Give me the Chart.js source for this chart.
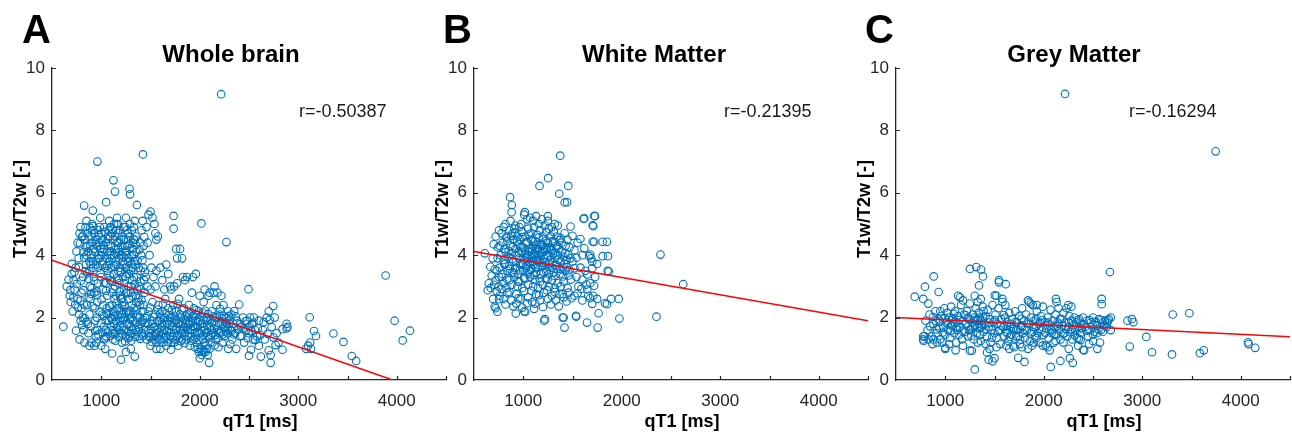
<!DOCTYPE html>
<html>
<head>
<meta charset="utf-8">
<script src="https://cdn.jsdelivr.net/npm/chart.js@4.4.1/dist/chart.umd.min.js"></script>
<style>
html,body{margin:0;padding:0;background:#fff;}
#wrap{position:relative;width:1292px;height:437px;overflow:hidden;background:#fff;}
canvas{position:absolute;top:0;}
</style>
</head>
<body>
<div id="wrap">
<canvas id="cA" width="450" height="437" style="left:0px"></canvas>
<canvas id="cB" width="450" height="437" style="left:422px"></canvas>
<canvas id="cC" width="448" height="437" style="left:844px"></canvas>
</div>
<script>
// ---------------- DATA ----------------
const panelLetters = ["A", "B", "C"];
const panelTitles = ["Whole brain", "White Matter", "Grey Matter"];
const rLabels = ["r=-0.50387", "r=-0.21395", "r=-0.16294"];
const xAxisTitle = "qT1 [ms]";
const yAxisTitle = "T1w/T2w [-]";
const xTickValues = [1000, 2000, 3000, 4000];
const yTickValues = [0, 2, 4, 6, 8, 10];

// fitted regression lines (endpoints)
const wholeFitQT1 = [500, 3957];
const wholeFitRatio = [3.84, 0];
const whiteFitQT1 = [500, 4500];
const whiteFitRatio = [4.12, 1.90];
const greyFitQT1 = [500, 4500];
const greyFitRatio = [2.0, 1.39];

// [qT1, T1w/T2w]
const wholeBrainPoints = [
[650,3.0],[680,2.7],[700,3.4],[690,2.5],[720,3.2],[730,2.9],[710,2.2],[740,3.6],[760,2.6],[770,3.9],[760,4.4],[780,4.7],[790,4.9],[775,2.1],[790,1.9],[800,2.3],[810,2.0],[820,1.6],[800,2.8],[815,3.3],[820,4.1],[830,4.5],[840,4.9],[850,5.1],[845,3.7],[860,4.3],[855,2.4],[865,1.8],[870,1.5],[880,2.1],[890,2.6],[885,3.0],[880,3.5],[895,4.0],[900,4.6],[905,5.0],[910,4.8],[920,4.2],[915,3.8],[925,3.3],[930,2.8],[935,2.3],[940,1.9],[945,1.4],[930,1.1],[950,1.2],[960,1.6],[955,2.0],[960,2.5],[965,3.1],[970,3.6],[975,4.0],[980,4.4],[985,4.9],[990,5.2],[1000,4.7],[1005,4.1],[1010,3.7],[1000,3.3],[1015,2.9],[1020,2.4],[1010,2.1],[1025,1.7],[1030,1.3],[1040,1.0],[1050,1.4],[1045,1.9],[1055,2.3],[1060,2.7],[1050,3.1],[1065,3.5],[1060,3.9],[1070,4.3],[1075,4.8],[1080,5.1],[1090,4.6],[1095,4.0],[1100,3.6],[1090,3.2],[1105,2.8],[1110,2.4],[1100,2.0],[1115,1.6],[1120,1.3],[1130,1.8],[1125,2.2],[1135,2.6],[1140,3.0],[1130,3.4],[1145,3.8],[1150,4.2],[1140,4.6],[1155,5.0],[1160,5.2],[1170,4.7],[1175,4.4],[1180,3.9],[1170,3.5],[1185,3.1],[1190,2.7],[1180,2.3],[1195,1.9],[1200,1.5],[1210,1.2],[1220,1.7],[1215,2.1],[1225,2.5],[1230,2.9],[1220,3.3],[1235,3.7],[1240,4.1],[1230,4.5],[1245,4.9],[1250,5.2],[1260,4.8],[1265,4.3],[1270,3.8],[1260,3.4],[1275,3.0],[1280,2.6],[1270,2.2],[1285,1.8],[1290,1.4],[1300,1.7],[1305,2.0],[1310,2.4],[1300,2.8],[1315,3.2],[1320,3.6],[1310,4.0],[1325,4.4],[1330,4.9],[1340,5.1],[1350,4.6],[1355,4.1],[1345,3.7],[1360,3.3],[1365,2.9],[1355,2.5],[1370,2.1],[1375,1.7],[1380,1.4],[1390,2.0],[1395,2.4],[1385,3.0],[1400,3.5],[1405,4.0],[1395,4.4],[1410,4.8],[1420,5.1],[1430,4.3],[1425,3.6],[1435,3.2],[1440,2.8],[1430,2.4],[1445,2.0],[1450,1.6],
[880,3.8],[900,3.9],[920,3.6],[940,4.1],[950,3.7],[960,4.3],[980,3.9],[1000,4.0],[1020,3.8],[1030,4.2],[1040,3.6],[1060,4.1],[1080,3.8],[1100,4.3],[1110,3.9],[1120,4.5],[1130,4.0],[1150,3.7],[1160,4.4],[1180,4.1],[1190,3.6],[1200,4.5],[1210,4.0],[1220,3.8],[1240,4.3],[1250,3.6],[1260,4.0],[1280,3.9],[1290,4.6],[1300,3.5],[1320,4.2],[1330,3.8],[1340,4.5],[850,4.0],[870,4.6],[890,4.3],[910,4.4],[930,4.7],[950,4.5],[970,4.8],[990,4.2],[1010,4.5],[1030,4.9],[1050,4.4],[1070,4.6],[1090,4.9],[1110,4.7],[1130,5.0],[1150,4.8],[1170,5.0],[1190,4.8],[1210,4.6],[1230,4.9],[1250,4.5],[1270,4.7],[1290,5.0],[1310,4.8],[1330,4.5],
[1050,1.6],[1080,1.9],[1100,1.7],[1120,2.1],[1140,1.5],[1150,1.9],[1160,2.3],[1180,1.6],[1200,2.0],[1210,2.4],[1230,1.6],[1240,2.0],[1250,1.4],[1260,1.8],[1280,2.1],[1300,1.5],[1320,1.9],[1330,2.3],[1350,1.6],[1360,2.0],[1380,2.5],[1400,1.8],[1410,1.5],[1420,2.2],[1150,2.7],[1200,2.6],[1250,2.8],[1300,3.0],[1350,2.7],[1400,2.9],[1180,3.2],[1230,3.1],[1280,3.4],[1330,3.3],[1380,3.6],
[812,4.62],[838,3.48],[867,4.12],[893,3.71],[902,2.94],[918,4.93],[927,3.18],[944,4.36],[958,2.72],[963,3.88],[977,4.64],[993,3.42],[1003,2.58],[1018,4.32],[1027,3.12],[1036,4.74],[1048,2.86],[1058,3.66],[1067,4.52],[1073,2.14],[1086,3.34],[1093,4.12],[1107,3.16],[1114,4.84],[1123,2.92],[1136,3.64],[1147,4.06],[1156,2.46],[1164,3.26],[1173,4.22],[1187,2.84],[1196,3.46],[1204,4.28],[1213,2.64],[1226,3.94],[1238,2.36],[1247,3.32],[1256,4.14],[1268,2.78],[1276,3.56],[1288,4.36],[1296,2.22],[1307,3.72],[1318,2.68],[1327,4.02],[1338,3.06],[1348,4.34],[1357,2.26],[1368,3.82],[1376,2.62],[1388,4.18],[1398,3.16],[1408,2.56],[1417,3.84],[1428,1.92],[1437,4.58],[1442,3.46],
[822,2.42],[848,1.86],[873,2.64],[896,1.72],[912,2.36],[938,1.58],[952,2.84],[968,1.46],[983,2.18],[997,1.82],[1012,1.52],[1028,2.06],[1042,1.34],[1057,2.12],[1068,1.56],[1082,2.36],[1096,1.42],[1108,1.94],[1118,1.48],[1133,2.04],[1144,1.26],[1158,1.68],[1166,2.08],[1178,1.38],[1192,1.74],[1206,2.22],[1218,1.46],[1228,1.92],[1243,1.24],[1254,2.16],[1266,1.54],[1278,1.34],[1292,1.96],[1304,1.26],[1316,1.62],[1326,2.12],[1342,1.38],[1358,1.84],[1366,1.54],[1384,1.64],[1396,1.32],[1414,1.86],[1426,1.42],[1448,1.84],
[668,3.22],[686,2.88],[702,3.72],[718,2.64],[727,3.46],[736,2.42],[748,4.12],[752,3.08],[764,2.32],[772,3.62],[784,4.38],[788,2.54],[796,3.18],[804,4.58],[806,1.76],[818,2.88],[826,3.92],[832,1.98],[842,4.26],[858,3.42],[863,4.72],[876,3.24],[886,4.88],[898,2.76],
[1460,1.3],[1470,1.8],[1480,2.2],[1490,1.5],[1500,1.1],[1510,1.9],[1520,2.5],[1530,1.4],[1540,1.7],[1550,2.1],[1560,1.2],[1570,1.6],[1580,2.4],[1590,1.9],[1600,1.3],[1610,1.7],[1620,2.2],[1630,1.5],[1640,2.0],[1650,2.6],[1660,1.4],[1670,1.8],[1680,2.3],[1690,1.6],[1700,2.0],[1710,1.2],[1720,1.7],[1730,2.4],[1740,1.5],[1750,1.9],[1760,2.2],[1770,1.4],[1780,1.8],[1790,2.6],[1800,1.6],[1810,2.0],[1820,1.3],[1830,1.8],[1840,2.3],[1850,1.5],[1860,1.9],[1870,2.1],[1880,1.6],[1890,2.4],[1900,1.8],[1910,1.4],[1920,2.0],[1930,1.7],[1940,2.3],[1950,1.5],[1960,1.9],[1970,1.2],[1980,1.7],[1990,2.2],[2000,1.5],[2010,1.0],[2020,1.8],[2030,1.3],[2040,2.5],[2050,1.6],[2060,1.1],[2070,2.0],[2080,1.4],[2090,2.7],[2100,1.7],[2110,1.2],[2120,2.2],[2130,1.5],[2140,2.8],[2150,1.9],[2160,1.3],[2170,2.4],[2180,1.6],[2200,2.1],[2220,1.8],[2240,2.4],[2250,1.4],[2260,1.7],[2270,2.0],[2280,1.5],[2290,2.2],[2300,1.8],
[1480,1.6],[1520,1.8],[1560,1.5],[1600,2.0],[1640,1.6],[1680,1.9],[1720,2.0],[1760,1.6],[1800,2.1],[1840,1.7],[1880,2.0],[1920,1.6],[1960,2.1],[2000,1.9],[2040,1.7],[2080,1.9],[2120,1.6],[2160,2.0],[2200,1.5],[2240,1.7],[1500,1.4],[1540,1.3],[1580,1.3],[1620,1.2],[1660,1.1],[1700,1.4],[1740,1.2],[1780,1.1],[1820,1.5],[1860,1.3],[1900,1.1],[1940,1.3],[1980,1.0],[2020,0.8],[2060,0.9],[2100,1.0],
[1465,2.04],[1486,1.38],[1494,2.32],[1506,1.62],[1516,1.22],[1534,2.02],[1546,1.46],[1565,1.88],[1574,2.26],[1586,1.54],[1596,2.12],[1606,1.46],[1616,1.84],[1626,2.42],[1636,1.34],[1646,1.78],[1656,2.14],[1666,1.58],[1676,1.22],[1686,2.08],[1696,1.76],[1706,1.52],[1716,2.24],[1726,1.36],[1736,1.84],[1746,2.06],[1756,1.28],[1766,1.92],[1776,2.44],[1786,1.46],[1796,1.84],[1806,1.24],[1816,2.26],[1826,1.62],[1836,1.96],[1846,1.18],[1856,2.06],[1866,1.66],[1876,1.42],[1886,1.78],[1896,2.12],[1906,1.62],[1916,1.26],[1926,1.88],[1936,2.06],[1946,1.72],[1956,1.36],[1966,2.24],[1976,1.54],[1986,1.86],[1996,1.28],[2006,2.02],[2016,1.58],[2026,2.16],[2036,1.42],[2046,1.92],[2056,2.22],[2066,1.52],[2076,1.76],[2086,2.12],[2096,1.36],[2106,1.92],[2116,1.44],[2126,1.84],[2136,2.04],[2146,1.62],[2156,1.44],[2166,1.76],[2176,2.02],[2186,1.34],[2196,1.82],[2206,2.28],[2216,1.52],[2226,1.98],[2236,1.46],[2246,2.06],[2256,1.86],[2266,1.56],[2276,1.82],[2286,1.68],[2296,2.04],
[1990,0.9],[2030,0.95],[2050,1.2],[2080,0.8],[1950,1.05],[2150,1.1],[2190,1.05],[2230,1.2],[2290,1.0],[2310,1.15],
[1460,4.9],[1480,5.3],[1500,5.4],[1520,5.2],[1540,5.0],[1550,4.7],[1560,4.5],[1575,4.6],[1470,4.4],[1490,4.0],[1510,3.6],[1530,3.3],[1550,3.0],[1560,3.5],[1600,3.6],[1620,3.2],[1640,2.9],[1660,3.7],[1680,3.4],[1700,3.0],[1710,2.9],[1740,3.0],[1770,3.1],[1760,4.2],[1800,4.2],[1770,3.9],[1820,3.9],[1830,3.3],[1850,3.2],[1870,3.3],[1930,3.3],[1960,3.4],[1920,2.8],[2000,2.7],[2050,2.9],[2100,2.8],[2150,3.0],[2180,2.8],[2220,2.7],[1450,3.3],[1470,3.0],[1500,2.9],
[2310,1.6],[2320,2.1],[2330,1.3],[2340,1.8],[2350,2.2],[2360,1.5],[2370,1.0],[2380,1.9],[2400,2.42],[2410,1.4],[2420,1.7],[2440,2.0],[2450,1.2],[2470,1.6],[2480,1.9],[2495,2.91],[2500,1.5],[2510,2.0],[2520,0.97],[2530,1.8],[2540,1.3],[2550,2.0],[2560,1.6],[2580,1.4],[2600,1.9],[2620,0.75],[2640,1.6],[2660,1.3],[2680,2.0],[2700,2.2],[2720,0.55],[2720,0.8],[2730,1.7],[2746,2.37],[2760,2.0],[2780,1.5],[2800,1.2],[2840,0.97],[2840,1.63],[2882,1.8],[2882,1.65],[2500,0.78],[2890,1.7],
[2305,1.92],[2325,1.58],[2345,1.46],[2365,2.04],[2385,1.62],[2405,1.78],[2425,1.42],[2445,1.66],[2465,1.88],[2485,1.34],[2505,1.72],[2525,1.58],[2545,1.84],[2565,1.28],[2590,1.66],[2615,1.44],[2650,1.86],[2690,1.48],[2710,1.92],[2750,1.36],[2770,1.12],[2700,0.95],[2600,1.1],
[615,1.71],[744,1.58],[780,1.3],[830,1.2],[880,1.1],[900,1.2],[1110,0.85],[1200,0.65],[1250,0.9],[1300,1.0],[1340,0.75],[1000,1.1],[1708,0.97],[2000,0.7],[2040,0.9],[2070,1.0],[2095,0.55],[1600,1.0],[1560,1.0],
[826,5.59],[914,5.43],[1050,5.70],[1124,6.40],[1140,6.04],[1287,6.13],[1293,5.95],[1362,5.61],[961,7.0],[1423,7.23],[2217,9.16],[2017,5.02],[2271,4.42],[1735,5.26],[1735,4.85],
[3100,1.1],[3120,1.2],[3080,1.0],[3130,1.0],[3116,2.01],[3160,1.57],[3180,1.41],[3357,1.49],[3459,1.22],[3544,0.77],[3588,0.61],[3887,3.35],[3978,1.90],[4134,1.58],[4060,1.27]
];

const whiteMatterPoints = [
[820,5.0],[870,5.1],[920,4.95],[980,5.0],[1010,5.3],[1040,5.15],[1070,5.2],[1100,5.1],[1130,5.25],[1160,5.0],[1190,5.15],[1220,4.95],[1250,5.1],[1290,4.9],[1320,5.0],[1350,4.95],
[780,4.7],[800,4.9],[830,4.6],[860,4.8],[890,4.7],[910,4.85],[940,4.6],[960,4.9],[990,4.75],[1020,4.6],[1050,4.85],[1080,4.7],[1110,4.9],[1140,4.65],[1170,4.8],[1200,4.6],[1230,4.75],[1260,4.85],[1280,4.6],[1310,4.75],[1340,4.6],[1380,4.55],[1420,4.7],[1450,4.5],
[760,4.3],[790,4.4],[810,4.2],[840,4.45],[870,4.3],[900,4.5],[920,4.2],[950,4.35],[970,4.5],[1000,4.25],[1030,4.4],[1060,4.2],[1080,4.5],[1100,4.3],[1120,4.45],[1150,4.2],[1180,4.35],[1200,4.5],[1230,4.25],[1250,4.4],[1280,4.2],[1300,4.45],[1330,4.3],[1360,4.2],[1390,4.4],[1430,4.3],[1470,4.25],
[740,3.9],[770,4.0],[800,3.85],[820,4.1],[850,3.95],[880,4.05],[900,3.8],[930,4.0],[960,3.9],[980,4.1],[1010,3.85],[1040,4.0],[1060,4.1],[1090,3.9],[1110,4.05],[1130,3.85],[1160,4.0],[1190,4.1],[1210,3.9],[1240,4.0],[1270,3.85],[1300,4.05],[1320,3.9],[1350,4.0],[1380,3.8],[1410,3.95],[1440,3.85],[1480,3.9],
[730,3.5],[760,3.6],[790,3.4],[810,3.7],[840,3.5],[860,3.65],[890,3.45],[920,3.6],[950,3.4],[970,3.7],[1000,3.5],[1030,3.65],[1050,3.4],[1080,3.55],[1100,3.7],[1130,3.45],[1150,3.6],[1180,3.4],[1200,3.65],[1230,3.5],[1260,3.4],[1290,3.6],[1310,3.45],[1340,3.55],[1370,3.4],[1400,3.6],[1430,3.5],[1460,3.35],
[720,3.2],[750,3.0],[780,3.3],[800,3.1],[830,2.95],[860,3.2],[880,3.05],[910,3.3],[940,3.0],[960,3.15],[990,2.95],[1020,3.25],[1050,3.05],[1070,3.3],[1100,3.0],[1120,3.2],[1150,2.95],[1170,3.15],[1200,3.05],[1230,3.25],[1260,3.0],[1290,3.2],[1320,2.95],[1350,3.1],[1380,3.0],[1410,3.15],[1450,2.95],
[760,2.7],[800,2.6],[840,2.8],[880,2.55],[930,2.75],[970,2.6],[1010,2.85],[1050,2.65],[1090,2.5],[1130,2.75],[1170,2.55],[1210,2.8],[1250,2.6],[1290,2.7],[1330,2.55],[1370,2.75],[1410,2.65],[1460,2.8],
[1020,4.15],[1070,3.75],[1120,4.2],[1170,3.8],[1210,4.2],[1260,3.7],[1000,3.7],[1090,4.2],[1140,3.95],[1190,3.75],[1240,4.2],[1050,3.8],[1100,3.8],[1150,4.15],
[812,3.74],[826,4.56],[838,3.22],[852,4.14],[864,3.56],[876,4.62],[888,3.88],[897,4.28],[908,3.42],[916,4.72],[926,3.78],[936,4.44],[946,3.16],[956,4.08],[966,3.52],[976,4.26],[986,3.72],[996,4.58],[1006,3.28],[1016,4.02],[1026,3.58],[1036,4.42],[1046,3.92],[1056,4.66],[1066,3.48],[1076,4.14],[1086,3.82],[1096,4.46],[1106,3.36],[1116,4.02],[1126,3.62],[1136,4.34],[1146,3.86],[1156,4.56],[1166,3.26],[1176,4.06],[1186,3.66],[1196,4.32],[1206,3.44],[1216,4.12],[1226,3.78],[1236,4.46],[1246,3.22],[1256,3.96],[1266,4.26],[1276,3.52],[1286,4.16],[1296,3.76],[1306,4.42],[1316,3.34],[1326,4.08],[1336,3.68],[1346,4.28],[1358,3.86],[1368,4.48],[1378,3.56],[1392,4.12],[1404,3.32],[1416,3.72],[1428,4.06],[1442,3.62],[1456,4.02],[1470,3.52],[1485,3.22],
[780,2.92],[820,2.42],[860,2.82],[900,2.36],[950,2.62],[990,2.32],[1040,2.46],[1080,2.86],[1110,2.28],[1160,2.72],[1200,2.34],[1240,2.88],[1280,2.42],[1320,2.82],[1360,2.36],[1400,2.76],[1440,2.52],[1490,2.62],[1550,2.78],[1590,2.92],[1640,3.06],[1680,2.62],[1720,3.02],[1600,3.22],[1650,3.38],[1700,3.58],[1750,3.72],[1540,3.92],[1620,4.22],[1680,4.02],[1580,4.52],[1500,4.62],[1480,4.92],[1520,3.58],
[690,3.9],[700,4.35],[710,3.55],[720,4.6],[730,2.85],[745,4.25],[755,3.3],[705,3.05],[680,3.35],[670,2.95],[695,2.6],
[1500,3.8],[1520,4.16],[1540,3.3],[1552,4.40],[1560,3.0],[1580,3.6],[1600,4.0],[1620,5.18],[1630,3.5],[1650,2.9],[1670,3.97],[1680,3.1],[1690,3.9],[1700,3.79],[1705,4.96],[1705,4.43],[1710,2.7],[1721,5.26],[1730,3.3],[1750,2.6],[1806,4.43],[1806,3.97],[1857,3.50],[1520,2.7],[1600,2.55],[1660,2.7],[1700,2.44],[1765,2.14],[1830,2.46],[1850,2.43],[1891,2.6],[1969,2.6],[1976,1.97],[1755,1.68],[1647,1.84],[1538,2.03],[1535,2.06],[1400,2.0],[1410,2.0],[1419,1.68],[1213,1.9],[1220,1.95],[1010,2.2],[1020,2.18],[924,2.13],[930,2.45],[1121,2.45],[720,2.3],[711,2.35],[737,2.19],[754,2.59],[640,2.88],[650,3.1],[666,3.63],[609,4.06],[754,4.8],[866,5.86],[884,5.61],[882,5.38],[1016,5.38],[1250,5.25],[1612,5.17],[1728,5.25],[1711,4.93],[1165,6.22],[1253,6.47],[1375,7.19],[1365,5.97],[1420,5.69],[1445,5.7],[1457,6.22],[2393,4.02],[2624,3.07],[2352,2.03],[1867,3.48],[1850,4.43],[1720,4.43],[1860,3.97]
];

const greyMatterPoints = [
[800,1.9],[820,1.6],[840,2.1],[860,1.4],[880,1.8],[900,2.2],[910,1.5],[930,1.95],[950,1.3],[960,2.05],[980,1.7],[990,2.3],[1000,1.45],[1010,1.85],[1020,2.15],[780,1.25],[790,1.4],[830,1.3],[870,1.15],[950,2.2],[905,1.9],[940,1.65],[970,1.2],
[1030,1.6],[1040,2.0],[1050,1.35],[1060,2.35],[1070,1.75],[1080,1.95],[1090,1.5],[1100,2.2],[1110,1.2],[1120,1.85],[1130,2.05],[1140,1.45],[1150,1.7],[1160,2.4],[1170,1.3],[1180,1.9],[1190,2.1],[1200,1.55],[1105,0.95],[1000,1.0],[1130,2.7],[1150,2.65],[1180,2.55],[1060,1.75],[1090,1.85],[1120,1.6],
[1210,1.8],[1220,2.2],[1230,1.4],[1240,1.95],[1250,2.45],[1260,1.6],[1270,1.85],[1280,2.1],[1290,1.3],[1300,1.75],[1310,2.3],[1320,1.5],[1330,1.95],[1340,2.15],[1350,1.65],[1360,1.25],[1370,1.9],[1380,2.35],[1390,1.55],[1400,1.8],[1251,0.94],[1270,0.94],[1300,2.7],[1330,2.5],[1360,2.6],[1390,2.2],[1230,2.0],[1280,1.7],[1320,1.9],[1350,2.0],[1370,1.7],[1240,1.6],[1300,2.0],[1340,1.8],
[1410,2.05],[1420,1.4],[1430,2.25],[1440,1.7],[1450,1.95],[1460,1.2],[1470,1.6],[1480,2.4],[1490,1.85],[1500,1.5],[1510,2.1],[1520,1.35],[1530,1.8],[1540,2.3],[1550,1.6],[1560,1.15],[1570,1.95],[1580,2.5],[1590,1.7],[1600,1.4],[1503,2.71],[1520,2.7],[1545,3.2],[1545,3.13],[1614,3.07],[1424,0.88],[1440,0.65],[1480,0.6],[1500,0.7],[1450,1.0],[1580,2.6],[1610,2.4],
[1610,2.0],[1620,1.55],[1630,1.85],[1640,1.25],[1650,2.15],[1660,1.7],[1670,1.45],[1680,1.95],[1690,1.1],[1700,1.65],[1710,2.2],[1720,1.4],[1730,1.85],[1740,1.6],[1750,2.05],[1760,1.3],[1770,1.75],[1780,2.3],[1790,1.5],[1800,1.9],[1741,0.71],[1804,0.58],[1650,1.0],[1700,1.05],[1760,1.15],[1630,1.5],[1670,1.8],[1720,1.6],[1780,1.7],
[1810,1.35],[1820,2.1],[1830,1.6],[1840,2.55],[1850,1.8],[1860,1.25],[1870,2.0],[1880,1.55],[1890,2.4],[1900,1.7],[1910,1.4],[1920,1.95],[1930,2.2],[1940,1.5],[1950,1.8],[1960,1.2],[1970,2.05],[1980,1.6],[1990,2.35],[2000,1.45],[1850,2.5],[1870,2.45],[1930,2.4],[1840,1.0],[1880,1.1],[1920,1.7],[1960,1.85],
[2010,1.85],[2020,1.1],[2030,1.65],[2040,2.0],[2050,1.35],[2060,1.75],[2070,2.25],[2080,1.5],[2090,1.9],[2100,1.2],[2110,1.7],[2120,2.1],[2124,2.6],[2130,1.45],[2140,1.85],[2150,2.3],[2160,1.6],[2170,1.3],[2180,1.95],[2190,1.75],[2200,2.15],[2071,0.42],[2169,0.61],[2040,1.05],[2060,0.95],[2130,2.5],[2080,1.6],[2150,1.8],
[2210,1.5],[2220,1.85],[2230,2.3],[2240,1.4],[2250,1.7],[2260,2.05],[2270,1.55],[2280,1.9],[2290,1.3],[2300,1.75],[2310,2.0],[2320,1.6],[2330,1.85],[2340,1.35],[2350,1.7],[2360,1.95],[2370,1.5],[2380,1.8],[2390,1.65],[2400,2.0],[2254,1.0],[2265,0.7],[2295,0.55],[2357,1.32],[2374,1.28],[2400,0.97],[2410,0.95],[2250,2.4],[2280,2.35],
[2420,1.7],[2440,1.9],[2460,1.6],[2480,1.85],[2500,2.0],[2520,1.55],[2540,1.75],[2560,1.95],[2580,1.6],[2600,1.85],[2620,1.9],[2640,1.7],[2660,1.95],[2680,2.0],[2544,1.0],[2571,1.2],[2588,2.6],[2588,2.43],[2650,1.9],[2680,1.6],[2672,3.46],[2450,1.4],[2500,1.45],[2540,1.5],[2600,1.55],
[845,1.72],[875,2.02],[915,1.62],[945,1.88],[975,1.52],[995,1.98],[1025,1.78],[1055,1.58],[1085,2.12],[1115,1.68],[1145,1.92],[1175,1.58],[1205,2.08],[1235,1.72],[1265,1.42],[1295,1.92],[1325,1.68],[1355,1.44],[1385,2.02],[1415,1.62],[1445,1.84],[1475,1.36],[1505,1.92],[1535,1.56],[1565,1.74],[1595,2.08],[1625,1.72],[1655,1.38],[1685,1.64],[1715,1.86],[1745,1.42],[1775,1.96],[1805,1.62],[1835,1.84],[1865,1.48],[1895,1.88],[1925,1.34],[1955,1.64],[1985,1.92],[2015,1.52],[2045,1.84],[2075,1.62],[2105,1.46],[2135,1.72],[2165,1.96],[2195,1.48],[2225,1.64],[2255,1.84],[2285,1.62],[2315,1.44],[2345,1.92],[2375,1.66],[2405,1.78],[2435,1.58],[2465,1.92],[2495,1.76],[2525,1.86],[2555,1.62],[2585,1.92],[2615,1.74],[2645,1.84],[2500,1.25],[2460,1.15],[2350,1.1],[2200,1.2],[2120,1.25],[1990,1.1],[1900,1.2],[1780,1.05],[1620,1.1],[1520,1.05],[1410,1.15],[1330,1.2],[1180,1.1],[1040,1.15],[880,1.3],
[690,2.67],[777,2.6],[794,2.99],[828,2.45],[883,3.32],[933,2.82],[777,1.3],[777,1.4],[917,1.2],[1000,1.03],[1251,3.56],[1315,3.62],[1363,3.54],[1383,3.32],[1343,3.03],[1300,0.34],[2216,9.17],[3745,7.33],[2895,1.95],[2873,1.07],[2850,1.9],[2910,1.85],[3041,1.38],[3099,0.89],[3309,2.10],[3478,2.14],[3302,0.82],[3585,0.86],[3625,0.95],[4073,1.21],[4080,1.15],[4147,1.03]
];

// ---------------- STYLE / LAYOUT ----------------
const FONT = 'Arial, "Liberation Sans", Helvetica, sans-serif';
const AXIS_COLOR = '#262626';
const MARKER_COLOR = '#0072BD';

const panelTextPlugin = {
  id: 'panelText',
  afterDraw(chart, args, opts) {
    const ctx = chart.ctx;
    const xs = chart.scales.x, ys = chart.scales.y;
    const area = chart.chartArea;
    ctx.save();
    // inward tick marks
    ctx.strokeStyle = AXIS_COLOR;
    ctx.lineWidth = 1.2;
    ctx.beginPath();
    xs.ticks.forEach(t => {
      if (t.value <= xs.min) return;
      const px = Math.round(xs.getPixelForValue(t.value)) + 0.5;
      ctx.moveTo(px, area.bottom);
      ctx.lineTo(px, area.bottom - 4);
    });
    ys.ticks.forEach(t => {
      if (t.value <= ys.min) return;
      const py = Math.round(ys.getPixelForValue(t.value)) + 0.5;
      ctx.moveTo(area.left, py);
      ctx.lineTo(area.left + 4, py);
    });
    ctx.stroke();

    ctx.fillStyle = '#000';
    ctx.textBaseline = 'alphabetic';
    // panel letter
    ctx.font = 'bold 40px ' + FONT;
    ctx.textAlign = 'left';
    ctx.fillText(opts.letter, opts.letterX, 43);
    // title
    ctx.font = 'bold 24px ' + FONT;
    ctx.textAlign = 'center';
    ctx.fillText(opts.title, opts.titleX, 62);
    // r value
    ctx.font = '18px ' + FONT;
    ctx.textAlign = 'left';
    ctx.fillStyle = '#1a1a1a';
    ctx.fillText(opts.r, opts.rX, 117);
    // x axis title
    ctx.fillStyle = '#000';
    ctx.font = 'bold 18px ' + FONT;
    ctx.textAlign = 'center';
    ctx.fillText(xAxisTitle, opts.xTitleX, 427);
    // y axis title
    ctx.translate(opts.yTitleX, 209);
    ctx.rotate(-Math.PI / 2);
    ctx.textBaseline = 'middle';
    ctx.fillText(yAxisTitle, 0, 0);
    ctx.restore();
  }
};

function toXY(pairs) { return pairs.map(p => ({x: p[0], y: p[1]})); }
function fitXY(xv, yv) { return xv.map((v, i) => ({x: v, y: yv[i]})); }

function makePanel(canvasId, idx, points, fitX, fitY, rightPad, pos) {
  new Chart(document.getElementById(canvasId), {
    type: 'scatter',
    data: {
      datasets: [
        {
          type: 'line',
          data: fitXY(fitX, fitY),
          borderColor: '#ff0000',
          borderWidth: 1.5,
          pointRadius: 0,
          fill: false,
          tension: 0
        },
        {
          data: toXY(points),
          pointStyle: 'circle',
          pointRadius: 3.8,
          pointBorderWidth: 1.1,
          borderColor: MARKER_COLOR,
          pointBorderColor: MARKER_COLOR,
          backgroundColor: 'rgba(0,0,0,0)',
          pointBackgroundColor: 'rgba(0,0,0,0)',
          showLine: false
        }
      ]
    },
    options: {
      responsive: false,
      animation: false,
      devicePixelRatio: 1,
      events: [],
      layout: {autoPadding: false, padding: {left: 0, right: rightPad, top: 68, bottom: 0}},
      plugins: {
        legend: {display: false},
        tooltip: {enabled: false},
        title: {display: false},
        panelText: {
          letter: panelLetters[idx], title: panelTitles[idx], r: rLabels[idx],
          letterX: pos.letterX, titleX: pos.titleX, rX: pos.rX, xTitleX: pos.xTitleX, yTitleX: pos.yTitleX
        }
      },
      scales: {
        x: {
          type: 'linear', min: 500, max: 4500,
          afterFit: s => { s.height = 57; s.paddingLeft = 0; s.paddingRight = 0; },
          grid: {display: false, drawTicks: false},
          border: {display: true, color: AXIS_COLOR, width: 1.3},
          ticks: {
            stepSize: 500, autoSkip: false, maxRotation: 0, padding: 11,
            color: AXIS_COLOR, font: {family: FONT, size: 17},
            callback: v => (xTickValues.includes(v) ? String(v) : '')
          }
        },
        y: {
          type: 'linear', min: 0, max: 10,
          afterFit: s => { s.width = 52; s.paddingTop = 0; s.paddingBottom = 0; },
          grid: {display: false, drawTicks: false},
          border: {display: true, color: AXIS_COLOR, width: 1.3},
          ticks: {
            stepSize: 2, padding: 7,
            color: AXIS_COLOR, font: {family: FONT, size: 17},
            callback: v => (yTickValues.includes(v) ? String(v) : '')
          }
        }
      }
    },
    plugins: [panelTextPlugin]
  });
}

makePanel('cA', 0, wholeBrainPoints, wholeFitQT1, wholeFitRatio, 4,
  {letterX: 22, titleX: 231, rX: 299, xTitleX: 260, yTitleX: 21.5});
makePanel('cB', 1, whiteMatterPoints, whiteFitQT1, whiteFitRatio, 4,
  {letterX: 21, titleX: 232, rX: 302, xTitleX: 260, yTitleX: 21.5});
makePanel('cC', 2, greyMatterPoints, greyFitQT1, greyFitRatio, 2,
  {letterX: 21, titleX: 230, rX: 285, xTitleX: 260, yTitleX: 21});
</script>
</body>
</html>
